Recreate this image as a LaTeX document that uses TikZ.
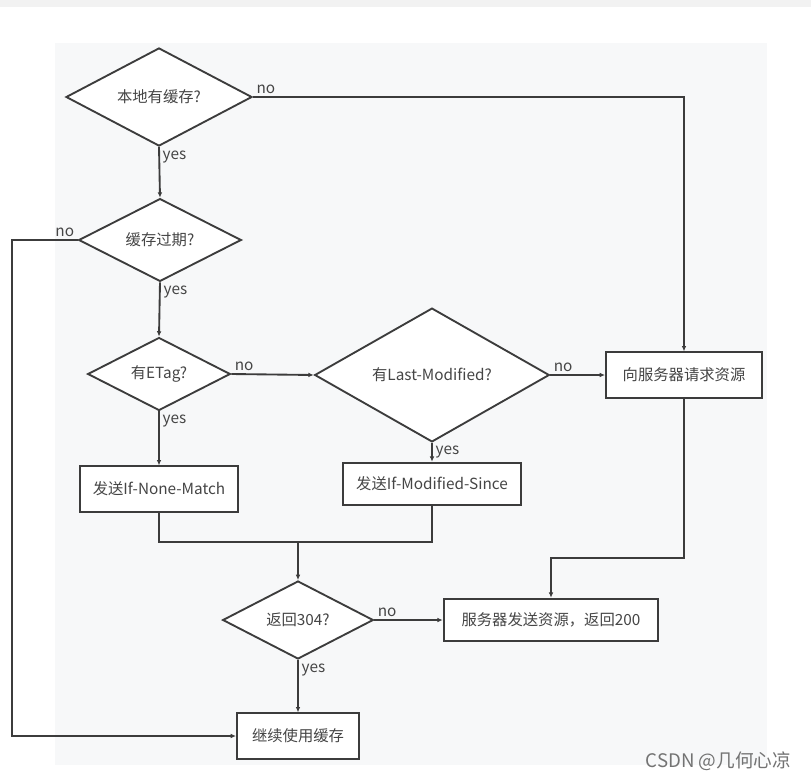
\documentclass[tikz,border=0pt]{standalone}
\usepackage{fontspec}
\setmainfont{Noto Sans CJK SC}
\usetikzlibrary{shapes.geometric,arrows.meta}
\definecolor{ink}{HTML}{3C3C3C}
\definecolor{txt}{HTML}{454545}
\definecolor{bgpane}{HTML}{F7F8F9}
\begin{document}
\begin{tikzpicture}[x=0.75pt,y=-0.75pt,
    every node/.style={text=txt,font=\fontsize{11.5}{13}\selectfont},
    decision/.style={draw=ink,line width=1.4pt,fill=white,shape=diamond,inner sep=0pt},
    block/.style={draw=ink,line width=1.4pt,fill=white,inner sep=0pt},
    line/.style={draw=ink,line width=1.4pt},
    arr/.style={line,-{Latex[length=4pt,width=3.5pt]}},
    lbl/.style={inner sep=2pt}]
                \useasboundingbox (0,0) rectangle (811,779);
                \fill[white] (0,0) rectangle (811,779);
                \fill[black!5] (0,0) rectangle (811,7);
                \fill[bgpane] (55,43) rectangle (767,765);
                % decisions
                \node[decision,minimum width=139.5pt,minimum height=70.5pt] (D1) at (159,97) {本地有缓存?};
                \node[decision,minimum width=122pt,minimum height=60pt] (D2) at (160,240) {缓存过期?};
                \node[decision,minimum width=107pt,minimum height=54pt] (D3) at (159,374) {有ETag?};
                \node[decision,minimum width=176pt,minimum height=88.5pt] (D4) at (432,375) {有Last-Modified?};
                \node[decision,minimum width=113pt,minimum height=58.5pt] (D5) at (298,620) {返回304?};
                % actions
                \node[block,minimum width=119pt,minimum height=34pt] (NM) at (159,489) {发送If-None-Match};
                \node[block,minimum width=134pt,minimum height=32pt] (MS) at (432,484) {发送If-Modified-Since};
                \node[block,minimum width=117pt,minimum height=34pt] (RQ) at (684,375) {向服务器请求资源};
                \node[block,minimum width=161pt,minimum height=32pt] (OK) at (551,620) {服务器发送资源，返回200};
                \node[block,minimum width=91.5pt,minimum height=34pt] (KC) at (298,736) {继续使用缓存};
                \coordinate (J) at (298,542);
                \coordinate (K) at (551,558);
                \coordinate (L) at (12,736);
                % connectors
                \draw[arr] (D1.east) node[lbl,above right] {no} -| (RQ.north);
                \draw[arr] (D1.south) node[lbl,below right] {yes} -- (D2.north);
                \draw[arr] (D2.west) node[lbl,above left] {no} -| (L) -- (KC.west);
                \draw[arr] (D2.south) node[lbl,below right] {yes} -- (D3.north);
                \draw[arr] (D3.east) node[lbl,above right] {no} -- (D4.west);
                \draw[arr] (D3.south) node[lbl,below right] {yes} -- (NM.north);
                \draw[arr] (D4.east) node[lbl,above right] {no} -- (RQ.west);
                \draw[arr] (D4.south) node[lbl,below right] {yes} -- (MS.north);
                \draw[line] (NM.south) |- (J) -| (MS.south);
                \draw[arr] (J) -- (D5.north);
                \draw[arr] (RQ.south) |- (K) -- (OK.north);
                \draw[arr] (D5.east) node[lbl,above right] {no} -- (OK.west);
                \draw[arr] (D5.south) node[lbl,below right] {yes} -- (KC.north);
                \node[text=black!55,font=\fontsize{14}{16}\selectfont,anchor=east] (WM) at (796,761) {CSDN @几何心凉};
            \end{tikzpicture}
\end{document}
